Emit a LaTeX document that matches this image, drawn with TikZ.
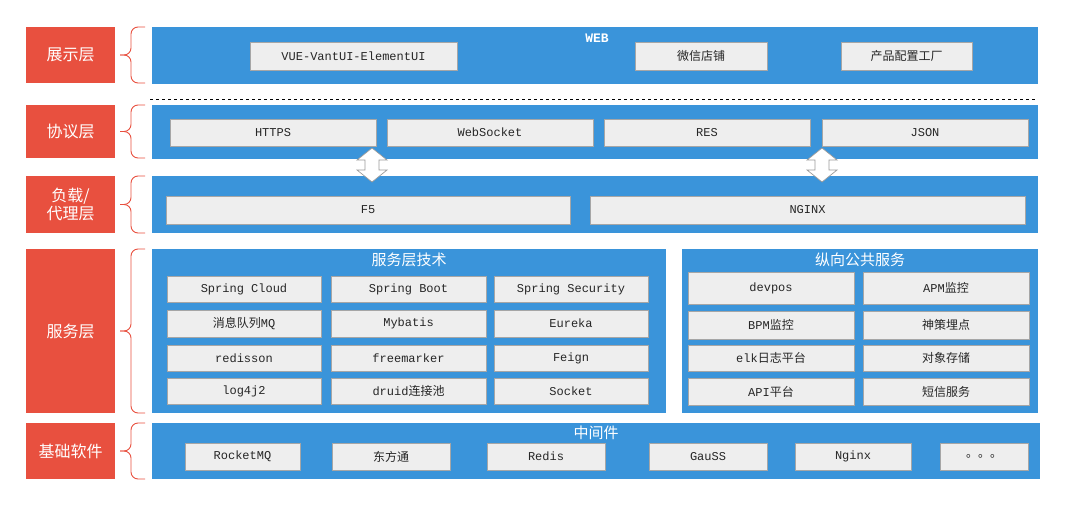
\documentclass[tikz,border=0pt]{standalone}
\usepackage{fontspec}
\setmainfont{Liberation Mono}
\newfontfamily\cjk{Noto Sans CJK SC}
\begin{document}
\definecolor{pb}{HTML}{3A94DA}
\definecolor{pr}{HTML}{E8503F}
\definecolor{bx}{HTML}{EEEEEE}
\begin{tikzpicture}[x=1pt,y=-1pt,
 red/.style={fill=pr,draw=none,inner sep=0},
 panel/.style={fill=pb,draw=none},
 bxs/.style={fill=bx,draw=gray!70,line width=0.6pt},
 lab/.style={font=\fontsize{12}{12}\selectfont,text=black!85},
 rlab/.style={font=\cjk\fontsize{16}{18}\selectfont,text=white,align=center},
 tlab/.style={font=\cjk\fontsize{15}{15}\selectfont,text=white},
 br/.style={draw=pr,line width=0.9pt,rounded corners=7pt}]
\useasboundingbox (0,0) rectangle (1082,509);
\newcommand\rbox[5]{\fill[red] (26,#1) rectangle (115,#2);
 \node[rlab] (#3) at (70.5,{(#1+#2)/2}) {#4};
 \pgfmathsetmacro\mm{(#1+#2)/2}
 \draw[br] (145,#1)--(131,#1)--(131,\mm)--(120,\mm);
 \draw[br] (145,#2)--(131,#2)--(131,\mm)--(120,\mm);}
\newcommand\bb[6]{\draw[bxs] (#1,#3) rectangle (#2,#4);
 \node[lab] (#5) at ({(#1+#2)/2},{(#3+#4)/2}) {#6};}
% red labels
\rbox{27}{83}{r1}{展示层}{}
\rbox{105}{158}{r2}{协议层}{}
\rbox{176}{233}{r3}{负载/\\代理层}{}
\rbox{249}{413}{r4}{服务层}{}
\rbox{423}{479}{r5}{基础软件}{}
% panels
\fill[panel] (152,27) rectangle (1038,84);
\node[font=\bfseries\fontsize{13}{13}\selectfont,text=white] (web) at (597,38) {WEB};
\bb{250}{457}{42}{70}{vue}{VUE-VantUI-ElementUI}
\bb{635}{767}{42}{70}{wx}{\cjk 微信店铺}
\bb{841}{972}{42}{70}{cp}{\cjk 产品配置工厂}
\draw[dashed,line width=0.8pt] (150,99) -- (1037,99);
\fill[panel] (152,105) rectangle (1038,159);
\bb{170}{376}{119}{146}{https}{HTTPS}
\bb{387}{593}{119}{146}{ws}{WebSocket}
\bb{604}{810}{119}{146}{res}{RES}
\bb{822}{1028}{119}{146}{json}{JSON}
\fill[panel] (152,176) rectangle (1038,233);
\bb{166}{570}{196}{224}{f5}{F5}
\bb{590}{1025}{196}{224}{nginx1}{NGINX}
\foreach \cx in {372,822}{
 \draw[gray!80,fill=white,line width=0.7pt] (\cx,148)--(\cx+15,160)--(\cx+7,160)--(\cx+7,170)--(\cx+15,170)--(\cx,182)--(\cx-15,170)--(\cx-7,170)--(\cx-7,160)--(\cx-15,160)--cycle;}
\fill[panel] (152,249) rectangle (666,413);
\node[tlab] (t1) at (409,260) {服务层技术};
\bb{167}{321}{276}{302}{a1}{Spring Cloud}
\bb{331}{486}{276}{302}{a2}{Spring Boot}
\bb{494}{648}{276}{302}{a3}{Spring Security}
\bb{167}{321}{310}{337}{a4}{{\cjk 消息队列}MQ}
\bb{331}{486}{310}{337}{a5}{Mybatis}
\bb{494}{648}{310}{337}{a6}{Eureka}
\bb{167}{321}{345}{371}{a7}{redisson}
\bb{331}{486}{345}{371}{a8}{freemarker}
\bb{494}{648}{345}{371}{a9}{Feign}
\bb{167}{321}{378}{404}{a10}{log4j2}
\bb{331}{486}{378}{404}{a11}{druid{\cjk 连接池}}
\bb{494}{648}{378}{404}{a12}{Socket}
\fill[panel] (682,249) rectangle (1038,413);
\node[tlab] (t2) at (860,260) {纵向公共服务};
\bb{688}{854}{272}{304}{b1}{devpos}
\bb{863}{1029}{272}{304}{b2}{APM{\cjk 监控}}
\bb{688}{854}{311}{339}{b3}{BPM{\cjk 监控}}
\bb{863}{1029}{311}{339}{b4}{\cjk 神策埋点}
\bb{688}{854}{345}{371}{b5}{elk{\cjk 日志平台}}
\bb{863}{1029}{345}{371}{b6}{\cjk 对象存储}
\bb{688}{854}{378}{405}{b7}{API{\cjk 平台}}
\bb{863}{1029}{378}{405}{b8}{\cjk 短信服务}
\fill[panel] (152,423) rectangle (1040,479);
\node[tlab] (t3) at (596,433) {中间件};
\bb{185}{300}{443}{470}{c1}{RocketMQ}
\bb{332}{450}{443}{470}{c2}{\cjk 东方通}
\bb{487}{605}{443}{470}{c3}{Redis}
\bb{649}{767}{443}{470}{c4}{GauSS}
\bb{795}{911}{443}{470}{c5}{Nginx}
\bb{940}{1028}{443}{470}{c6}{\cjk 。。。}
\end{tikzpicture}
\end{document}
